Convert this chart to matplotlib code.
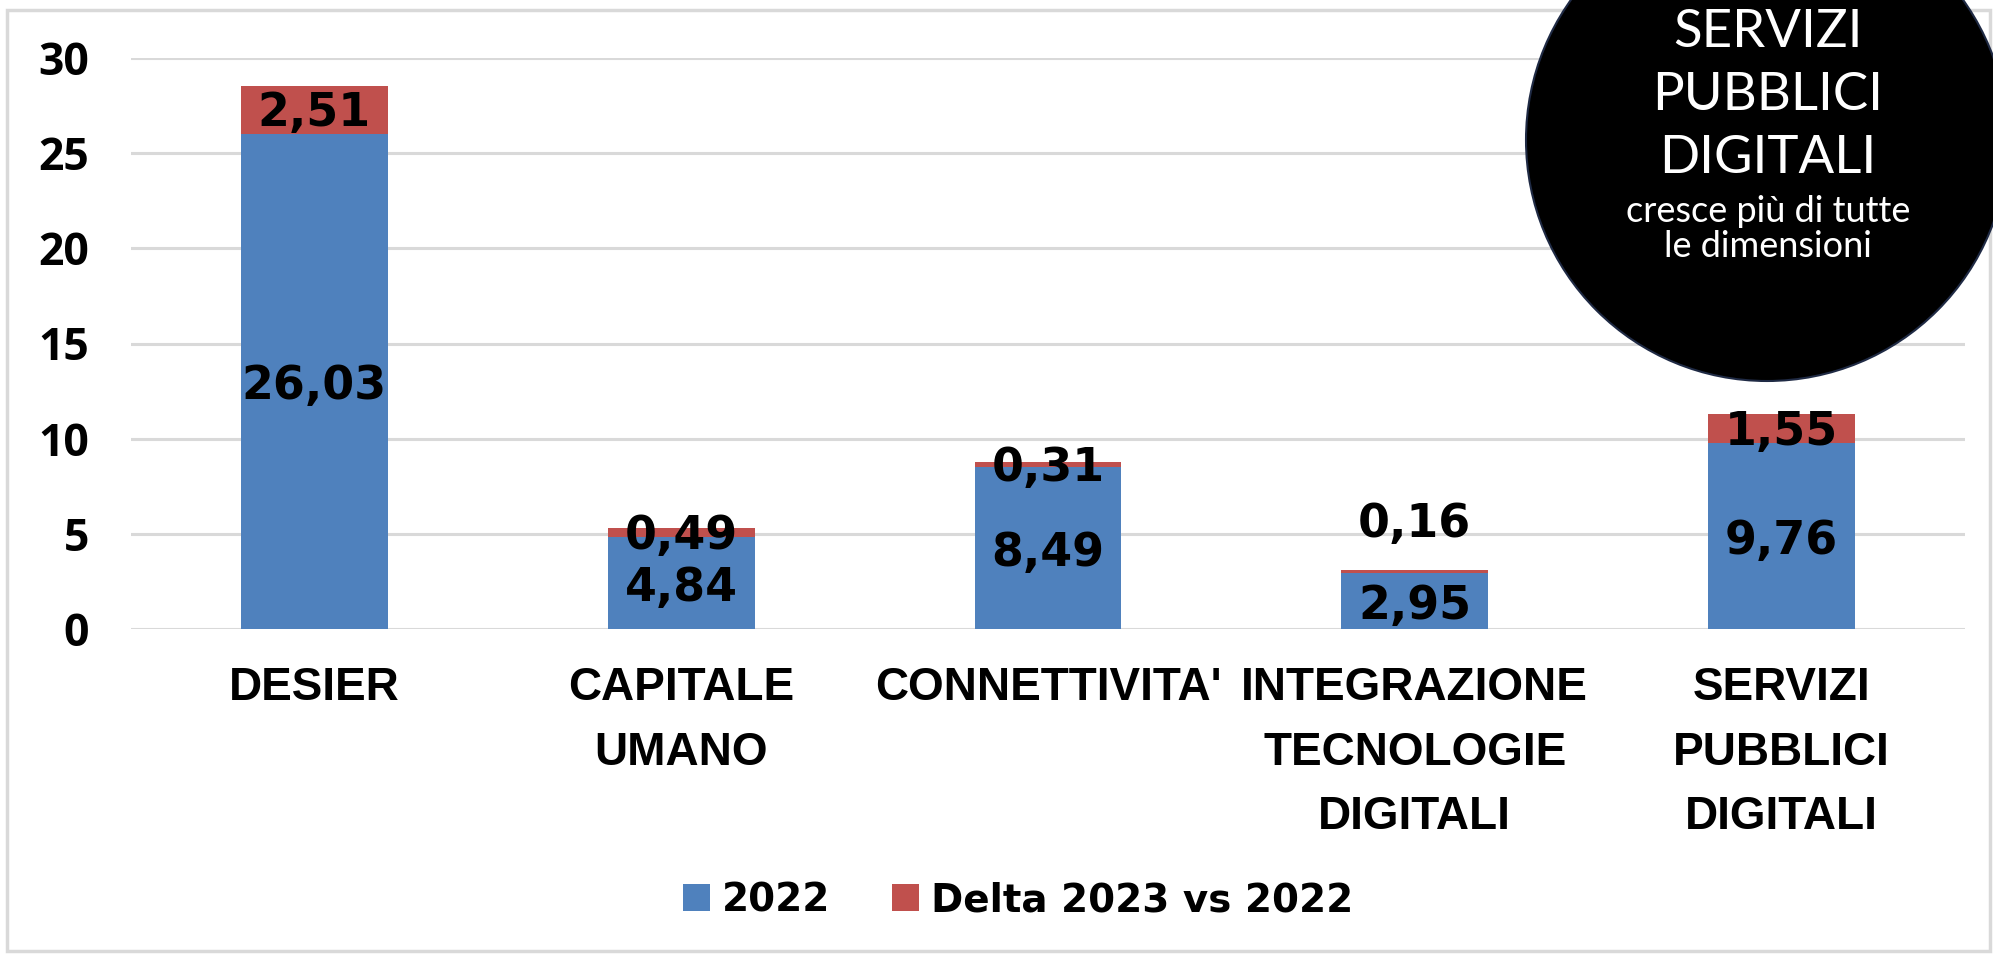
import matplotlib
matplotlib.use("Agg")

import matplotlib.pyplot as plt
from matplotlib.patches import Circle, Rectangle
import numpy as np

categories = ["DESIER", "CAPITALE\nUMANO", "CONNETTIVITA'",
              "INTEGRAZIONE\nTECNOLOGIE\nDIGITALI", "SERVIZI\nPUBBLICI\nDIGITALI"]
values_2022 = [26.03, 4.84, 8.49, 2.95, 9.76]
delta_2023 = [2.51, 0.49, 0.31, 0.16, 1.55]
yticks = [0, 5, 10, 15, 20, 25, 30]

blue = "#4F81BD"
red = "#C0504D"
grid_col = "#D9D9D9"

W, H = 1993, 956
fig = plt.figure(figsize=(W / 100, H / 100), dpi=100)
ax = fig.add_axes([131 / W, 1 - 629 / H, (1965 - 131) / W, (629 - 58) / H])

x = np.arange(len(categories))
b1 = ax.bar(x, values_2022, width=0.4, color=blue, label="2022", zorder=2)
b2 = ax.bar(x, delta_2023, width=0.4, bottom=values_2022, color=red,
            label="Delta 2023 vs 2022", zorder=2)

ax.set_xlim(-0.5, len(categories) - 0.5)
ax.set_ylim(0, 30)
ax.set_yticks(yticks)
ax.yaxis.grid(True, color=grid_col, linewidth=2.2, zorder=0)
ax.set_axisbelow(True)
for s in ax.spines.values():
    s.set_visible(False)
ax.tick_params(axis="both", length=0)
ax.tick_params(axis="y", pad=30)
ax.set_yticklabels([str(v) for v in yticks], fontfamily="Open Sans",
                   fontweight="bold", fontsize=32)
ax.set_xticks(x)
ax.set_xticklabels(categories, fontfamily="Liberation Sans",
                   fontweight="bold", fontsize=33, linespacing=1.6, va="top")
ax.tick_params(axis="x", pad=27)

lab_kw = dict(ha="center", va="center", fontfamily="DejaVu Sans",
              fontweight="bold", fontsize=33, color="black", zorder=4)
for i in range(len(categories)):
    v, d = values_2022[i], delta_2023[i]
    ax.text(x[i], v / 2 - 0.3, f"{v:.2f}".replace(".", ","), **lab_kw)
    if d < 0.2:
        ax.text(x[i], v + d + 2.4, f"{d:.2f}".replace(".", ","), **lab_kw)
    else:
        ax.text(x[i], v + d / 2 - 0.2, f"{d:.2f}".replace(".", ","), **lab_kw)

leg = fig.legend(handles=[b1, b2], loc="center", bbox_to_anchor=(1018 / W, 1 - 900 / H),
                 ncol=2, frameon=False, handlelength=0.7, handleheight=0.7,
                 handletextpad=0.3, columnspacing=1.6,
                 prop={"family": "DejaVu Sans", "weight": "bold", "size": 28})

# outer frame
fig.patches.append(Rectangle((7 / W, 1 - 951 / H), (1990 - 7) / W, (951 - 10) / H,
                             transform=fig.transFigure, fill=False,
                             edgecolor=grid_col, linewidth=2.5, zorder=0))

# callout circle
fig.patches.append(Circle((17.67, (H - 140) / 100), 2.41, transform=fig.dpi_scale_trans,
                          facecolor="black", edgecolor="#1F2A44", linewidth=1.5, zorder=5))
cx = 1768 / W
for txt, yb in [("SERVIZI", 47), ("PUBBLICI", 110), ("DIGITALI", 173)]:
    fig.text(cx, 1 - yb / H, txt, ha="center", va="baseline", color="white",
             fontfamily="Lato", fontweight="normal", fontsize=38, zorder=6)
for txt, yb in [("cresce più di tutte", 222), ("le dimensioni", 257)]:
    fig.text(cx, 1 - yb / H, txt, ha="center", va="baseline", color="white",
             fontfamily="Lato", fontweight="normal", fontsize=26, zorder=6)

fig.savefig("out.png", dpi=100)
plt.close(fig)
